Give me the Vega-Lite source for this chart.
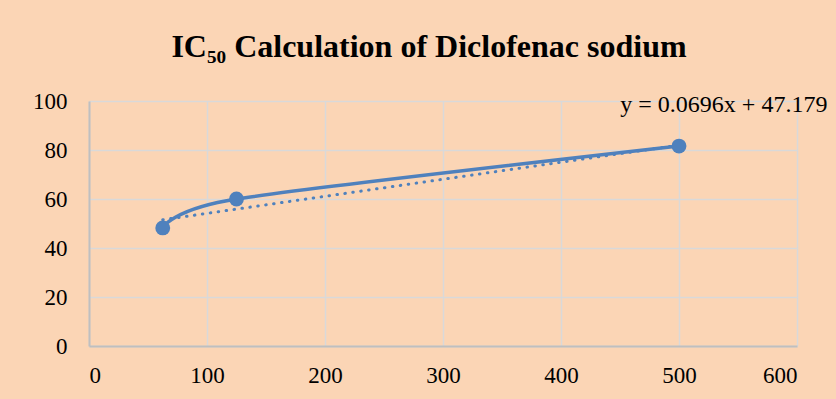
{
  "$schema": "https://vega.github.io/schema/vega-lite/v6.json",
  "width": 708,
  "height": 245,
  "autosize": "none",
  "padding": {"left": 89, "top": 101, "right": 39, "bottom": 53},
  "background": "#FBD5B5",
  "title": {
    "text": "IC₅₀ Calculation of Diclofenac sodium",
    "font": "Liberation Serif",
    "fontSize": 32,
    "fontWeight": "bold",
    "color": "#000000",
    "anchor": "middle",
    "dx": -14,
    "offset": 26
  },
  "config": {
    "view": {"stroke": null},
    "axis": {
      "labelFont": "Liberation Serif",
      "labelFontSize": 23,
      "labelColor": "#000000",
      "gridColor": "#D9D9D9",
      "gridWidth": 1.5,
      "domainColor": "#BFBFBF",
      "domainWidth": 2,
      "ticks": false,
      "title": null
    }
  },
  "datasets": {
    "obs": [
      {"conc": 62.5, "inhibition": 48.2},
      {"conc": 125, "inhibition": 60.0},
      {"conc": 500, "inhibition": 81.6}
    ],
    "trend": [
      {"conc": 62.5, "inhibition": 51.53},
      {"conc": 500, "inhibition": 81.98}
    ],
    "eq": [
      {"conc": 538, "inhibition": 95.6, "label": "y = 0.0696x + 47.179"}
    ]
  },
  "layer": [
    {
      "data": {"name": "trend"},
      "mark": {"type": "line", "color": "#4F81BD", "strokeWidth": 3, "strokeDash": [0.5, 7.5], "strokeCap": "round"},
      "encoding": {
        "x": {"field": "conc", "type": "quantitative", "scale": {"domain": [0, 600]}, "axis": {"values": [0, 100, 200, 300, 400, 500, 600], "labelPadding": 18, "grid": true}},
        "y": {"field": "inhibition", "type": "quantitative", "scale": {"domain": [0, 100]}, "axis": {"values": [0, 20, 40, 60, 80, 100], "labelPadding": 22}}
      }
    },
    {
      "data": {"name": "obs"},
      "mark": {"type": "line", "color": "#4F81BD", "strokeWidth": 3.5, "interpolate": "cardinal", "tension": 0.25},
      "encoding": {
        "x": {"field": "conc", "type": "quantitative"},
        "y": {"field": "inhibition", "type": "quantitative"}
      }
    },
    {
      "data": {"name": "obs"},
      "mark": {"type": "point", "filled": true, "color": "#4F81BD", "opacity": 1, "size": 220},
      "encoding": {
        "x": {"field": "conc", "type": "quantitative"},
        "y": {"field": "inhibition", "type": "quantitative"}
      }
    },
    {
      "data": {"name": "eq"},
      "mark": {"type": "text", "font": "Liberation Serif", "fontSize": 24, "color": "#000000", "align": "center", "baseline": "alphabetic"},
      "encoding": {
        "x": {"field": "conc", "type": "quantitative"},
        "y": {"field": "inhibition", "type": "quantitative"},
        "text": {"field": "label"}
      }
    }
  ]
}
